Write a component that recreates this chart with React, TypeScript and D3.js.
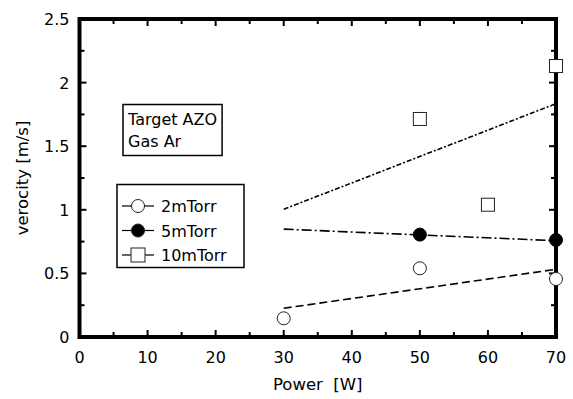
import React, { useEffect, useRef } from 'react';
import * as d3 from 'd3';

// measured points
const powers2 = [30, 50, 70];
const vel2 = [0.147, 0.54, 0.456];
const powers5 = [50, 70];
const vel5 = [0.805, 0.763];
const powers10 = [50, 60, 70];
const vel10 = [1.714, 1.04, 2.13];

// fit lines (end points)
const fitX = [30, 70];
const fit2 = [0.226, 0.532];
const fit5 = [0.848, 0.757];
const fit10 = [1.004, 1.834];

const xTicks = [0, 10, 20, 30, 40, 50, 60, 70];
const yTicks = [0, 0.5, 1, 1.5, 2, 2.5];
const legendLabels = ['2mTorr', '5mTorr', '10mTorr'];
const infoLines = ['Target AZO', 'Gas Ar'];

const FONT = '"DejaVu Sans", sans-serif';

const App = () => {
  const svgRef = useRef<SVGSVGElement>(null);

  useEffect(() => {
    const svg = d3.select(svgRef.current);
    svg.selectAll('*').remove();

    const W = 573, H = 399;
    const margin = { top: 19, right: 17, bottom: 62, left: 79.5 };
    const x = d3.scaleLinear().domain([0, 70]).range([margin.left, W - margin.right]);
    const y = d3.scaleLinear().domain([0, 2.5]).range([H - margin.bottom, margin.top]);

    const g = svg.append('g');

    // ticks (inward, all four sides)
    const minorX = d3.range(5, 70, 10);
    const minorY = d3.range(0.25, 2.5, 0.5);
    const tickG = g.append('g').attr('stroke', '#000').attr('stroke-width', 2);
    const addX = (vals: number[], len: number) => {
      vals.forEach(v => {
        tickG.append('line').attr('x1', x(v)).attr('x2', x(v)).attr('y1', y(0)).attr('y2', y(0) - len);
        tickG.append('line').attr('x1', x(v)).attr('x2', x(v)).attr('y1', y(2.5)).attr('y2', y(2.5) + len);
      });
    };
    const addY = (vals: number[], len: number) => {
      vals.forEach(v => {
        tickG.append('line').attr('x1', x(0)).attr('x2', x(0) + len).attr('y1', y(v)).attr('y2', y(v));
        tickG.append('line').attr('x1', x(70)).attr('x2', x(70) - len).attr('y1', y(v)).attr('y2', y(v));
      });
    };
    addX(xTicks, 7);
    addX(minorX, 5);
    addY(yTicks, 7);
    addY(minorY, 5);

    // frame
    g.append('rect')
      .attr('x', x(0)).attr('y', y(2.5))
      .attr('width', x(70) - x(0)).attr('height', y(0) - y(2.5))
      .attr('fill', 'none').attr('stroke', '#000').attr('stroke-width', 4);

    // tick labels
    g.append('g').selectAll('text').data(xTicks).enter().append('text')
      .attr('x', d => x(d)).attr('y', y(0) + 26)
      .attr('text-anchor', 'middle')
      .attr('font-family', FONT).attr('font-size', 16)
      .text(d => d);
    g.append('g').selectAll('text').data(yTicks).enter().append('text')
      .attr('x', x(0) - 10).attr('y', d => y(d) + 6)
      .attr('text-anchor', 'end')
      .attr('font-family', FONT).attr('font-size', 16)
      .text(d => d);

    // axis titles
    g.append('text')
      .attr('x', (x(0) + x(70)) / 2).attr('y', H - 9)
      .attr('text-anchor', 'middle')
      .attr('font-family', FONT).attr('font-size', 16.5)
      .attr('xml:space', 'preserve')
      .text('Power  [W]');
    g.append('text')
      .attr('transform', `translate(28,${(y(0) + y(2.5)) / 2}) rotate(-90)`)
      .attr('text-anchor', 'middle')
      .attr('font-family', FONT).attr('font-size', 16.5)
      .text('verocity [m/s]');

    // fit lines
    const line = d3.line<number>().x((_, i) => x(fitX[i])).y(d => y(d));
    const fits = [
      { v: fit2, dash: '8,4' },
      { v: fit5, dash: '10,3,2,3' },
      { v: fit10, dash: '5,2,2,2' },
    ];
    fits.forEach(f => {
      g.append('path')
        .attr('d', line(f.v))
        .attr('fill', 'none').attr('stroke', '#000').attr('stroke-width', 1.6)
        .attr('stroke-dasharray', f.dash);
    });

    // markers
    const r = 6.5;
    powers2.forEach((p, i) => {
      g.append('circle').attr('cx', x(p)).attr('cy', y(vel2[i])).attr('r', r)
        .attr('fill', '#fff').attr('stroke', '#222').attr('stroke-width', 1);
    });
    powers5.forEach((p, i) => {
      g.append('circle').attr('cx', x(p)).attr('cy', y(vel5[i])).attr('r', r)
        .attr('fill', '#000').attr('stroke', '#000').attr('stroke-width', 1);
    });
    powers10.forEach((p, i) => {
      g.append('rect').attr('x', x(p) - r).attr('y', y(vel10[i]) - r)
        .attr('width', 2 * r).attr('height', 2 * r)
        .attr('fill', '#fff').attr('stroke', '#222').attr('stroke-width', 1);
    });

    // info box
    const info = g.append('g');
    const infoRect = info.append('rect').attr('x', 123).attr('y', 104.5).attr('height', 51)
      .attr('fill', '#fff').attr('stroke', '#000').attr('stroke-width', 1.5);
    let infoW = 0;
    infoLines.forEach((t, i) => {
      const txt = info.append('text').attr('x', 128).attr('y', 125 + i * 22)
        .attr('font-family', FONT).attr('font-size', 16).text(t);
      infoW = Math.max(infoW, (txt.node() as SVGTextElement).getComputedTextLength());
    });
    infoRect.attr('width', infoW + 10);

    // legend
    const leg = g.append('g');
    leg.append('rect').attr('x', 117).attr('y', 184.5).attr('width', 127).attr('height', 83)
      .attr('fill', '#fff').attr('stroke', '#000').attr('stroke-width', 1.5);
    legendLabels.forEach((t, i) => {
      const cy = 206 + i * 24.5;
      leg.append('line').attr('x1', 122).attr('x2', 154).attr('y1', cy).attr('y2', cy)
        .attr('stroke', '#000').attr('stroke-width', 1.2);
      if (i === 2) {
        leg.append('rect').attr('x', 131).attr('y', cy - 7).attr('width', 14).attr('height', 14)
          .attr('fill', '#fff').attr('stroke', '#222').attr('stroke-width', 1);
      } else {
        leg.append('circle').attr('cx', 138).attr('cy', cy).attr('r', 6.5)
          .attr('fill', i === 0 ? '#fff' : '#000').attr('stroke', '#222').attr('stroke-width', 1);
      }
      leg.append('text').attr('x', 161).attr('y', cy + 6)
        .attr('font-family', FONT).attr('font-size', 16).text(t);
    });
  }, []);

  return (
    <svg
      ref={svgRef}
      width={573}
      height={399}
      style={{ position: 'absolute', left: 0, top: 0, background: '#fff' }}
    />
  );
};

export default App;
